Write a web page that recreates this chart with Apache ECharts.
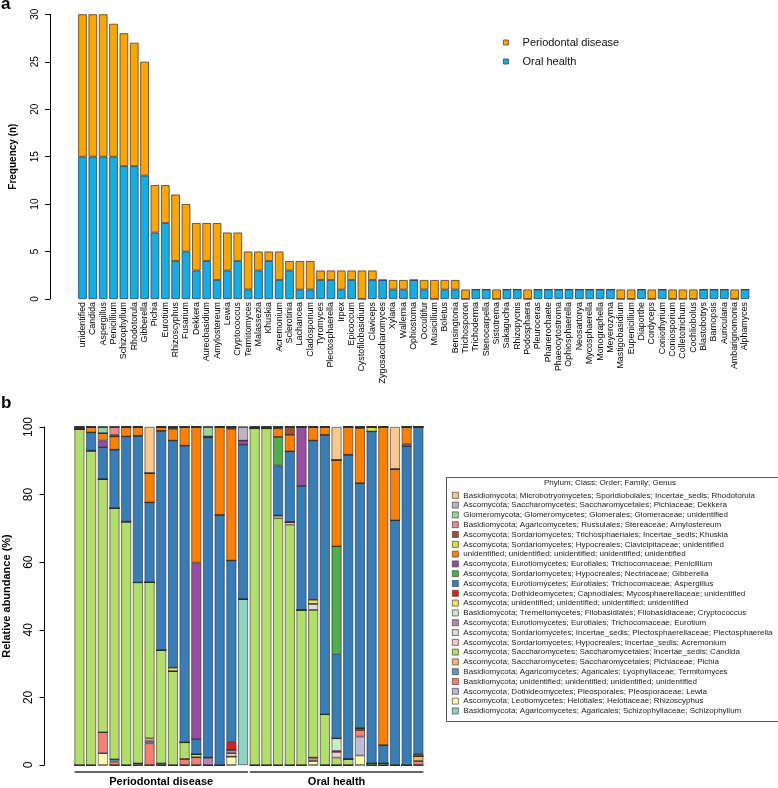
<!DOCTYPE html>
<html><head><meta charset="utf-8">
<script src="https://cdn.jsdelivr.net/npm/echarts@6/dist/echarts.min.js"></script>
<style>html,body{margin:0;padding:0;background:#fff}#c{width:778px;height:788px}</style>
</head><body><div id="c"></div><script>
// ---------- Panel a data ----------
const genera = ['unidentified','Candida','Aspergillus','Penicillium','Schizophyllum','Rhodotorula','Gibberella','Pichia','Eurotium','Rhizoscyphus','Fusarium','Dekkera','Aureobasidium','Amylostereum','Lewia','Cryptococcus','Termitomyces','Malassezia','Khuskia','Acremonium','Sclerotinia','Lachancea','Cladosporium','Tyromyces','Plectosphaerella','Irpex','Epicoccum','Cystofilobasidium','Claviceps','Zygosaccharomyces','Xylaria','Wallemia','Ophiostoma','Occultifur','Musicillium','Boletus','Bensingtonia','Trichosporon','Trichoderma','Stenocarpella','Sistotrema','Sakaguchia','Rhizopycnis','Podosphaera','Pleuroceras','Phanerochaete','Phaeocytostroma','Ophiosphaerella','Neosartorya','Mycosphaerella','Monographella','Meyerozyma','Mastigobasidium','Eupenicillium','Diaporthe','Cordyceps','Coniothyrium','Coniosporium','Colletotrichum','Cochliobolus','Blastobotrys','Barnopsis','Auricularia','Ambarignomonia','Alphamyces'];
const oralHealth = [15,15,15,15,14,14,13,7,8,4,5,3,4,2,3,4,1,3,4,2,3,1,1,2,2,1,2,0,2,2,1,1,2,1,0,1,1,0,1,1,0,1,1,0,1,1,1,1,1,1,1,1,0,0,1,0,1,0,0,0,1,1,1,0,1];
const periodontalDisease = [15,15,15,14,14,13,12,5,4,7,5,5,4,6,4,3,4,2,1,3,1,3,3,1,1,2,1,3,1,0,1,1,0,1,2,1,1,1,0,0,1,0,0,1,0,0,0,0,0,0,0,0,1,1,0,1,0,1,1,1,0,0,0,1,0];
const freqTicks = [0, 30, 5];   // min, max, step
const abundTicks = [0, 100, 20];

// ---------- Panel b data (30 samples, % abundance) ----------
const samples = ['P1','P2','P3','P4','P5','P6','P7','P8','P9','P10','P11','P12','P13','P14','P15','H1','H2','H3','H4','H5','H6','H7','H8','H9','H10','H11','H12','H13','H14','H15'];
const groupNames = ['Periodontal disease','Oral health'];
const groupStart = [0, 15];
const groupEnd = [14, 29];

const abSchizophyllum = [0,0,0,0,0, 0,0,0,0,0, 0,0,0,0,49.1, 0,0,0,0,0, 0,0,0,0,0, 0,0,0,0,0];
const abRhizoscyphus  = [0,0,3.5,0,0, 0,0,0,0,0, 0,0,0,2.5,0, 0,0,0,0,0, 1.2,0,0,0,2.8, 0,0,0,0,0];
const abLewia         = [0,0,0,0,0, 0,0,0,0,0, 0,0,0,0,0, 0,0,0,0,0, 0,0,0,0,5.6, 0,0,0,0,0];
const abBasidioUnid   = [0,0,6.2,1.0,0, 0.5,6.4,0,0,1.8, 2.3,0,0,0,0, 0,0,0,0,0, 1.0,0,0,0,2.0, 0,0,0,0,1.2];
const abTermitomyces  = [0,0,0,0.7,0, 0,0.7,0.5,0,0, 0,0,0,0,0, 0,0,0,0,0, 0,0,0,0,0, 0,0,0,0,0];
const abPichia        = [0,0,0,0,0, 0,0.8,0,0,0, 0,0,0,0,0, 0,0,0,0,0, 0,0,0,0,0, 0,0,0,0,1.5];
const abCandida       = [99.5,93,74.9,74.3,72, 53.5,46.2,33.5,27.8,4.9, 0.9,0,0,0,0, 99.6,99.6,73,71.1,45.9, 43.7,15,2.2,1.8,0.5, 0.5,0.5,0,0,0];
const abAcremonium    = [0,0,0,0,0, 0,0,0,0,0, 0,0,0,1.0,0, 0,0,0.8,0.8,0, 0,0,1.7,0,0, 0,0,0,0,0];
const abPlectosphaerella = [0,0,0,0,0, 0,0,0,0,0, 0,0,0,0,0, 0,0,0,0,0, 1.8,0,0,0,0, 0,0,0,0,0];
const abEurotium      = [0,0,0,0,0, 0,0,0,0,0, 0,2.2,0,1.0,0, 0,0,0,0,0, 0,0,0.3,0,0, 0,0,0,0,0];
const abCryptococcus  = [0,0,0,0,0, 0,0,0,0,0, 0,0,0,0,0, 0,0,0,0,0, 0,0,3.7,0,0, 0,0,0,0,0];
const abAscoUnid      = [0,0,0,0,0, 0,0,0,1.0,0, 0,0,0,0,0, 0,0,0,0,0, 1.2,0,0,0,0, 0,0,0,0,0.5];
const abMycoUnid      = [0,0,0,0,0, 0,0,0,0,0, 0,0,0,2.4,0, 0,0,0,0,0, 0,0,0,0,0, 0,0,0,0,0];
const abAspergillus   = [0,5.4,9.4,17.3,25.2, 43.4,23.6,64.9,67.2,87.8, 4.5,94.7,74,53.6,45.7, 0,0,14.8,20.9,36.7, 47.1,82.7,24.9,90.0,72.5, 98.2,5.4,72.4,94.3,96.8];
const abGibberella    = [0,0,0,0,0, 0,0,0,0,0, 0,0,0,0,0, 0,0,8.5,0,0, 0,0,31.9,0,0, 0,0,0,0,0];
const abPenicillium   = [0,0,2.0,0,0, 0,0,0,0,0, 52.2,0,0,0,1.2, 0,0,0,0,17.4, 0,0,0,0,0, 0,0,0,0.7,0];
const abUnidentified  = [0,1.6,2.2,3.9,2.8, 2.6,8.7,1.1,3.5,5.5, 40.1,0.3,26,39,0, 0,0,2.5,4.9,0, 4.0,2.3,25.6,8.2,16.3, 0,94.1,15.2,5.0,0];
const abClavicipitaceae = [0,0,0,0,0, 0,0,0,0,0, 0,0,0,0,0, 0,0,0,0,0, 0,0,0,0,0, 1.3,0,0,0,0];
const abKhuskia       = [0.5,0,0,0.5,0, 0,0,0,0.5,0, 0,0,0,0.5,0, 0.4,0.4,0.4,2.3,0, 0,0,0,0,0.3, 0,0,0,0,0];
const abAmylostereum  = [0,0,0,2.3,0, 0,0,0,0,0, 0,0,0,0,0, 0,0,0,0,0, 0,0,0,0,0, 0,0,0,0,0];
const abGlomeraceae   = [0,0,1.8,0,0, 0,0,0,0,0, 0,2.8,0,0,0, 0,0,0,0,0, 0,0,0,0,0, 0,0,0,0,0];
const abDekkera       = [0,0,0,0,0, 0,0,0,0,0, 0,0,0,0,4.0, 0,0,0,0,0, 0,0,0,0,0, 0,0,0,0,0];
const abRhodotorula   = [0,0,0,0,0, 0,13.6,0,0,0, 0,0,0,0,0, 0,0,0,0,0, 0,0,9.7,0,0, 0,0,12.4,0,0];

// bottom -> top stacking order
const taxa = [
 ['Basidiomycota; Agaricomycetes; Agaricales; Schizophyllaceae; Schizophyllum', abSchizophyllum, '#8DD3C7'],
 ['Ascomycota; Leotiomycetes; Helotiales; Helotiaceae; Rhizoscyphus', abRhizoscyphus, '#FFFFB3'],
 ['Ascomycota; Dothideomycetes; Pleosporales; Pleosporaceae; Lewia', abLewia, '#BEBADA'],
 ['Basidiomycota; unidentified; unidentified; unidentified; unidentified', abBasidioUnid, '#F47F72'],
 ['Basidiomycota; Agaricomycetes; Agaricales; Lyophyllaceae; Termitomyces', abTermitomyces, '#5E9BB8'],
 ['Ascomycota; Saccharomycetes; Saccharomycetales; Pichiaceae; Pichia', abPichia, '#FDB462'],
 ['Ascomycota; Saccharomycetes; Saccharomycetales; Incertae_sedis; Candida', abCandida, '#B3DE69'],
 ['Ascomycota; Sordariomycetes; Hypocreales; Incertae_sedis; Acremonium', abAcremonium, '#F7C9D0'],
 ['Ascomycota; Sordariomycetes; Incertae_sedis; Plectosphaerellaceae; Plectosphaerella', abPlectosphaerella, '#DCDCDC'],
 ['Ascomycota; Eurotiomycetes; Eurotiales; Trichocomaceae; Eurotium', abEurotium, '#B984B0'],
 ['Basidiomycota; Tremellomycetes; Filobasidiales; Filobasidiaceae; Cryptococcus', abCryptococcus, '#CCEBC5'],
 ['Ascomycota; unidentified; unidentified; unidentified; unidentified', abAscoUnid, '#F3E45A'],
 ['Ascomycota; Dothideomycetes; Capnodiales; Mycosphaerellaceae; unidentified', abMycoUnid, '#D9201E'],
 ['Ascomycota; Eurotiomycetes; Eurotiales; Trichocomaceae; Aspergillus', abAspergillus, '#377EB8'],
 ['Ascomycota; Sordariomycetes; Hypocreales; Nectriaceae; Gibberella', abGibberella, '#4DAF4A'],
 ['Ascomycota; Eurotiomycetes; Eurotiales; Trichocomaceae; Penicillium', abPenicillium, '#984EA3'],
 ['unidentified; unidentified; unidentified; unidentified; unidentified', abUnidentified, '#FF7F00'],
 ['Ascomycota; Sordariomycetes; Hypocreales; Clavicipitaceae; unidentified', abClavicipitaceae, '#DDE23C'],
 ['Ascomycota; Sordariomycetes; Trichosphaeriales; Incertae_sedis; Khuskia', abKhuskia, '#A0522D'],
 ['Basidiomycota; Agaricomycetes; Russulales; Stereaceae; Amylostereum', abAmylostereum, '#F2868C'],
 ['Glomeromycota; Glomeromycetes; Glomerales; Glomeraceae; unidentified', abGlomeraceae, '#98D892'],
 ['Ascomycota; Saccharomycetes; Saccharomycetales; Pichiaceae; Dekkera', abDekkera, '#BFB3C4'],
 ['Basidiomycota; Microbotryomycetes; Sporidiobolales; Incertae_sedis; Rhodotorula', abRhodotorula, '#FAC78C']
];

const FONT = '"Liberation Sans", Arial, Helvetica, sans-serif';
const chart = echarts.init(document.getElementById('c'), null, {renderer: 'canvas'});

function yAxisStyle(fs, nameFs) {
  return {
    type: 'value',
    axisLine: {show: true, lineStyle: {color: '#000', width: 1}},
    axisTick: {show: true, length: 5, lineStyle: {color: '#000'}},
    axisLabel: {rotate: 90, fontSize: fs, color: '#000', margin: 9.5, fontFamily: FONT},
    splitLine: {show: false},
    nameLocation: 'middle', nameRotate: 90, nameMoveOverlap: false,
    nameTextStyle: {fontWeight: 'bold', fontSize: nameFs, color: '#000', fontFamily: FONT}
  };
}

const seriesB = taxa.map(t => ({
  name: t[0], type: 'bar', stack: 'b', xAxisIndex: 1, yAxisIndex: 1,
  data: t[1], barWidth: '84%',
  itemStyle: {color: t[2], borderColor: '#2b2b2b', borderWidth: 0.6},
  emphasis: {disabled: true}
}));

const option = {
  animation: false,
  textStyle: {fontFamily: FONT},
  title: [
    {text: 'a', left: 1, top: -4, padding: 0, textStyle: {fontSize: 17, fontWeight: 'bold', color: '#000', fontFamily: FONT}},
    {text: 'b', left: 1, top: 395, padding: 0, textStyle: {fontSize: 17, fontWeight: 'bold', color: '#000', fontFamily: FONT}},
    {text: 'Phylum; Class; Order; Family; Genus', left: 610, top: 479, textAlign: 'center', padding: 0,
     textStyle: {fontSize: 8, fontWeight: 'normal', color: '#222', fontFamily: FONT}}
  ],
  grid: [
    {left: 69.3, width: 680.9, top: 14.3, height: 284.7},
    {left: 71.8, width: 352.4, top: 427, height: 338}
  ],
  xAxis: [
    {type: 'category', gridIndex: 0, data: genera,
     axisLine: {show: false}, axisTick: {show: false},
     axisLabel: {interval: 0, rotate: 90, fontSize: 8.9, color: '#000', margin: 3, fontFamily: FONT}},
    {type: 'category', gridIndex: 1, data: samples,
     axisLine: {show: false}, axisTick: {show: false}, axisLabel: {show: false}}
  ],
  yAxis: [
    Object.assign(yAxisStyle(10, 10), {gridIndex: 0, min: freqTicks[0], max: freqTicks[1], interval: freqTicks[2],
      offset: 27.3, name: 'Frequency (n)', nameGap: 32}),
    Object.assign(yAxisStyle(12, 11), {gridIndex: 1, min: abundTicks[0], max: abundTicks[1], interval: abundTicks[2],
      offset: 29.1, name: 'Relative abundance (%)', nameGap: 32.5})
  ],
  legend: [
    {data: ['Periodontal disease', 'Oral health'], orient: 'vertical', left: 503, top: 37,
     itemWidth: 5, itemHeight: 5, itemGap: 8, padding: 0, icon: 'rect',
     formatter: n => '   ' + n,
     textStyle: {fontSize: 11, lineHeight: 11, color: '#111', fontFamily: FONT},
     itemStyle: {borderColor: '#444', borderWidth: 0.8}, selectedMode: false},
    {data: taxa.map(t => t[0]).reverse(), orient: 'vertical', left: 452, top: 490.4,
     itemWidth: 6, itemHeight: 6, itemGap: 0, padding: 0, icon: 'rect',
     textStyle: {fontSize: 8, lineHeight: 9.8, color: '#222', fontFamily: FONT},
     itemStyle: {borderColor: '#444', borderWidth: 0.7}, selectedMode: false}
  ],
  graphic: [
    {type: 'rect', left: 444, top: 475, shape: {width: 332, height: 244},
     style: {fill: 'none', stroke: '#555', lineWidth: 1}, silent: true}
  ],
  series: [
    {name: 'Oral health', type: 'bar', stack: 'a', xAxisIndex: 0, yAxisIndex: 0, data: oralHealth,
     barWidth: '83%', itemStyle: {color: '#13AEE6', borderColor: '#3d3d3d', borderWidth: 0.8}},
    {name: 'Periodontal disease', type: 'bar', stack: 'a', xAxisIndex: 0, yAxisIndex: 0, data: periodontalDisease,
     barWidth: '83%', itemStyle: {color: '#FFA500', borderColor: '#3d3d3d', borderWidth: 0.8}},
    ...seriesB,
    {type: 'custom', xAxisIndex: 1, yAxisIndex: 1, clip: false, silent: true,
     data: groupNames.map((g, i) => [groupStart[i], groupEnd[i]]),
     encode: {x: [0, 1]},
     renderItem: function (params, api) {
       const a = api.coord([api.value(0), 0]);
       const b = api.coord([api.value(1), 0]);
       const half = api.size([1, 0])[0] * 0.42;
       const y = a[1] + 7;
       return {type: 'group', children: [
         {type: 'line', shape: {x1: a[0] - half, y1: y, x2: b[0] + half, y2: y},
          style: {stroke: '#333', lineWidth: 1.6}},
         {type: 'text', style: {text: groupNames[params.dataIndex], x: (a[0] + b[0]) / 2, y: y + 4,
          align: 'center', verticalAlign: 'top', fontSize: 11, fontWeight: 'bold', fontFamily: FONT, fill: '#000'}}
       ]};
     }}
  ]
};
chart.setOption(option);
</script></body></html>
